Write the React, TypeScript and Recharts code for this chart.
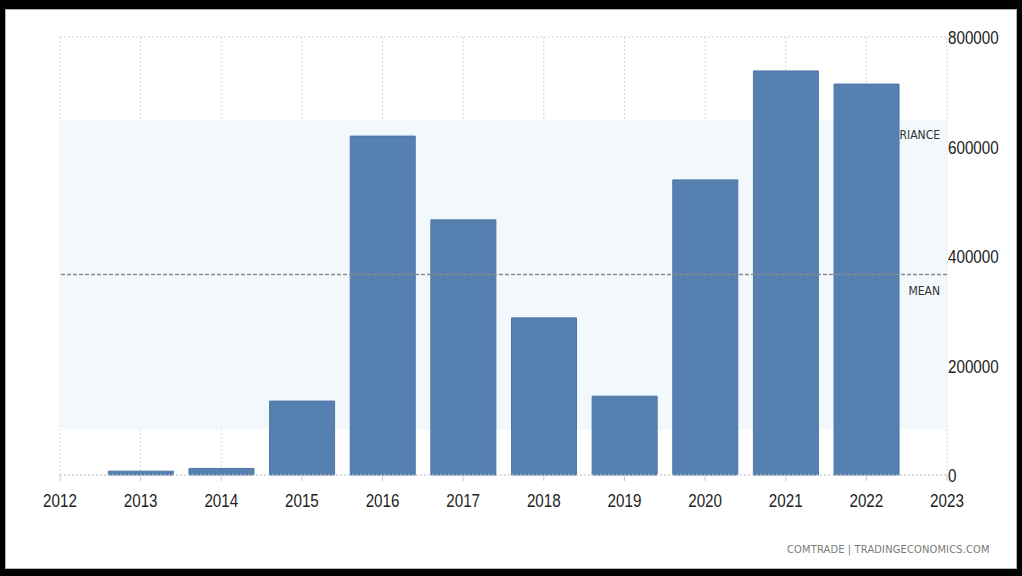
import React from 'react';
import { BarChart, Bar, XAxis, YAxis, CartesianGrid, ReferenceLine, ReferenceArea } from 'recharts';

const years = [2013, 2014, 2015, 2016, 2017, 2018, 2019, 2020, 2021, 2022];
const values = [7000, 12000, 135000, 619000, 466000, 287000, 144000, 539000, 738000, 714000];
const xTicks = [2012, 2013, 2014, 2015, 2016, 2017, 2018, 2019, 2020, 2021, 2022, 2023];
const yTicks = [0, 200000, 400000, 600000, 800000];
const meanValue = 366000;
const varianceLow = 83000;
const varianceHigh = 649000;

const data = years.map((year, i) => ({ year, value: values[i] }));

const FONT = '"Liberation Sans", Arial, sans-serif';
const SMALL_FONT = '"DejaVu Sans Condensed", "Liberation Sans", Arial, sans-serif';

// narrow axis text: regular sans squeezed horizontally
const XTick = (props: any) => {
  const { x, y, payload } = props;
  return (
    <g transform={`translate(${x},${y})`}>
      <text x={0} y={0} dy="0.71em" textAnchor="middle" fontSize={19} fill="#222" fontFamily={FONT} transform="scale(0.8,1)">
        {payload.value}
      </text>
    </g>
  );
};

const YTick = (props: any) => {
  const { x, y, payload } = props;
  return (
    <g transform={`translate(${x},${y})`}>
      <text x={0} y={0} dy="0.38em" textAnchor="start" fontSize={19} fill="#222" fontFamily={FONT} transform="scale(0.8,1)">
        {payload.value}
      </text>
    </g>
  );
};

const CornerLabel = (props: any) => {
  const { viewBox, text, offsetY } = props;
  const x = viewBox.x + viewBox.width - 7;
  const y = viewBox.y + offsetY;
  return (
    <text x={x} y={y} textAnchor="end" fontSize={12} fill="#333" fontFamily={SMALL_FONT}>
      {text}
    </text>
  );
};

const App: React.FC = () => {
  return (
    <div style={{ position: 'absolute', left: 0, top: 0, width: 1022, height: 576, background: '#000' }}>
      <div
        style={{
          position: 'absolute',
          left: 5,
          top: 9,
          right: 5,
          bottom: 7,
          background: '#fff',
          boxShadow: 'inset 0 0 0 1px #b0b0b0',
        }}
      />
      <div style={{ position: 'absolute', left: 0, top: 0 }}>
        <BarChart width={1022} height={576} data={data} margin={{ top: 37, right: 0, bottom: 71, left: 60 }}>
          <ReferenceArea
            y1={varianceLow}
            y2={varianceHigh}
            fill="#f3f8fd"
            fillOpacity={1}
            stroke="none"
            label={<CornerLabel text="VARIANCE" offsetY={19} />}
          />
          <CartesianGrid stroke="#d4d4d4" strokeDasharray="2 2" />
          <ReferenceLine
            y={meanValue}
            stroke="#8a8a8a"
            strokeDasharray="4 2"
            strokeWidth={1.5}
            label={<CornerLabel text="MEAN" offsetY={20} />}
          />
          <XAxis
            dataKey="year"
            type="number"
            domain={[2012, 2023]}
            ticks={xTicks}
            interval={0}
            height={30}
            axisLine={{ stroke: '#d4d4d4', strokeDasharray: '2 2' }}
            tickLine={{ stroke: '#c8c8c8' }}
            tickSize={6}
            tickMargin={13}
            tick={<XTick />}
          />
          <YAxis
            orientation="right"
            domain={[0, 800000]}
            ticks={yTicks}
            width={75}
            axisLine={false}
            tickLine={false}
            tickSize={0}
            tickMargin={1}
            tick={<YTick />}
          />
          <Bar dataKey="value" fill="#5580b0" stroke="#4b76a6" strokeWidth={1} barSize={65} isAnimationActive={false} />
        </BarChart>
      </div>
      <div
        style={{
          position: 'absolute',
          left: 787,
          top: 543,
          width: 204,
          fontFamily: SMALL_FONT,
          fontSize: 11,
          color: '#7a7a7a',
          letterSpacing: 0.15,
          whiteSpace: 'nowrap',
        }}
      >
        COMTRADE | TRADINGECONOMICS.COM
      </div>
    </div>
  );
};

export default App;
